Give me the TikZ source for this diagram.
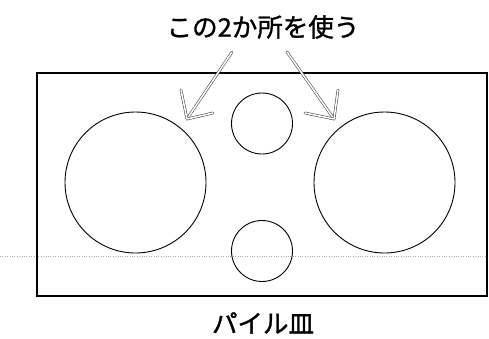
\documentclass[tikz,border=0pt]{standalone}
\usepackage{fontspec}
\setmainfont{Noto Sans CJK JP}[FakeBold=1.2]
\begin{document}
\begin{tikzpicture}[x=1pt, y=-1pt,
  dish/.style={circle, draw, line width=0.9pt, inner sep=0pt, minimum size=#1},
  hollow/.style={draw=black!70, line width=0.6pt, double=white, double distance=1.5pt, line join=round, line cap=round},
  caption/.style={font=\fontsize{25.5}{26}\selectfont, inner sep=0pt}]
\useasboundingbox (0,0) rectangle (489,338);

% fold line of the scan
\draw[gray!60, dotted] (0,256) -- (488,256);

% plate
\draw[line width=1.5pt] (37,73) rectangle (487,296);
\node[dish=141pt] (bigl) at (135.5,182.5) {};
\node[dish=141pt] (bigr) at (384.5,182.5) {};
\node[dish=61pt] (smallt) at (262,123.5) {};
\node[dish=61pt] (smallb) at (262,251) {};

% labels
\node[caption] (use) at (263,27) {この2か所を使う};
\node[caption] (plate) at (263,323) {パイル皿};

% hollow arrows
\coordinate (ltail) at (232,52);
\coordinate (ltip) at (187,119);
\coordinate (rtail) at (287,52);
\coordinate (rtip) at (334,119);
\draw[hollow] (ltail) -- (ltip);
\draw[hollow] (181,90) -- (ltip) -- (213,113);
\draw[hollow] (rtail) -- (rtip);
\draw[hollow] (338,90) -- (rtip) -- (305,113);
\end{tikzpicture}
\end{document}
